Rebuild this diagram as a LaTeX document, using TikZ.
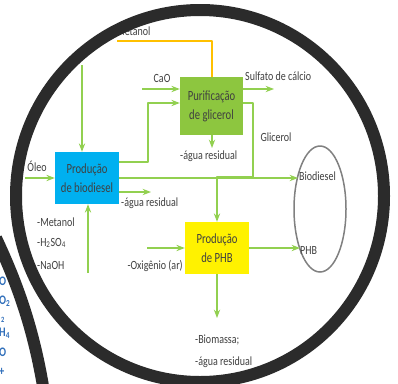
\documentclass[tikz,border=0pt]{standalone}
\usepackage{fontspec}
\setmainfont{Carlito}[FakeStretch=0.8]
\newfontfamily\boxfont{Carlito}[FakeStretch=0.76]
\usetikzlibrary{arrows.meta,positioning,shapes.geometric}
\definecolor{bioblue}{HTML}{00B0F0}
\definecolor{glicgreen}{HTML}{8DC63F}
\definecolor{flowgreen}{HTML}{92D050}
\definecolor{metgold}{HTML}{FFC000}
\definecolor{txtgray}{HTML}{404040}
\definecolor{ringgray}{HTML}{2B2B2B}
\definecolor{fragblue}{HTML}{2F6EBA}
\tikzset{
  every picture/.style={line join=round, >=Stealth},
  procbox/.style={minimum width=64pt, minimum height=52pt, align=center, inner sep=1pt,
    text=txtgray, font=\boxfont\fontsize{14}{19}\selectfont},
  flow/.style={->, draw=flowgreen, line width=1.2pt},
  lbl/.style={text=txtgray, inner sep=1pt, font=\fontsize{12.5}{14}\selectfont},
  ring/.style={draw=ringgray, line width=12pt},
  frag/.style={text=fragblue, inner sep=0pt, anchor=west, font=\bfseries\fontsize{13}{14}\selectfont},
}
\begin{document}
\begin{tikzpicture}[x=1pt,y=-1pt]
\useasboundingbox[fill=white] (0,0) rectangle (398,383);
% process boxes
\node[procbox, fill=bioblue] (bio) at (87,178) {Produção\\de biodiesel};
\node[procbox, fill=glicgreen, minimum height=58pt, minimum width=63pt] (pur) at (211.5,106) {Purificação\\de glicerol};
\node[procbox, fill=yellow] (phb) at (217,248) {Produção\\de PHB};
\node[draw=gray, line width=1.5pt, ellipse, minimum width=52pt, minimum height=126pt, inner sep=0pt] (prod) at (320,209) {};
% metanol
\coordinate (m0) at (117,41);
\coordinate (m1) at (212,41);
\node[lbl, anchor=west] (lmet) at (115,31) {Metanol};
\draw[draw=metgold, line width=1.2pt] (m0) -- (m1) -- (m1 |- pur.north);
% inputs of biodiesel
\coordinate (t0) at (82,65);
\draw[flow] (t0) -- (t0 |- bio.north);
\coordinate (o0) at (25,178);
\node[lbl] (loleo) at (37,166) {Óleo};
\draw[flow] (o0) -- (bio.west);
\coordinate (b0) at (88,273);
\draw[flow] (b0) -- (b0 |- bio.south);
\node[lbl, anchor=west] (lmeta) at (36,222) {-Metanol};
\node[lbl, anchor=west] (lacid) at (36,243) {-H\textsubscript{2}SO\textsubscript{4}};
\node[lbl, anchor=west] (lbase) at (36,265) {-NaOH};
% outputs of biodiesel
\coordinate (g0) at (119,162);
\coordinate (g1) at (148,162);
\draw[flow] (g0) -- (g1) |- (pur.west |- 0,103);
\coordinate (d1) at (298,178);
\draw[flow] (bio.east) -- (d1);
\node[lbl, anchor=west] (lbiod) at (298,176) {Biodiesel};
\coordinate (w0) at (119,192);
\coordinate (w1) at (151,192);
\draw[flow] (w0) -- (w1);
\node[lbl, anchor=west] (lwat1) at (120,203) {-água residual};
% purificacao
\coordinate (c0) at (142,89);
\draw[flow] (c0) -- (c0 -| pur.west);
\node[lbl] (lcao) at (162,78) {CaO};
\coordinate (s0) at (243,89);
\coordinate (s1) at (274,89);
\draw[flow] (s0) -- (s1);
\node[lbl, anchor=west] (lsulf) at (244,76) {Sulfato de cálcio};
\coordinate (r0) at (212,135);
\coordinate (r1) at (212,148);
\draw[flow] (r0) -- (r1);
\node[lbl, anchor=west] (lwat2) at (179,156) {-água residual};
\coordinate (k0) at (243,103);
\coordinate (k1) at (253,103);
\coordinate (k2) at (253,177);
\coordinate (k3) at (217,177);
\draw[flow] (k0) -- (k1) -- (k2) -- (k3) -- (phb.north);
\node[lbl] (lglic) at (276,137) {Glicerol};
% producao de PHB
\coordinate (x0) at (147,248);
\draw[flow] (x0) -- (phb.west);
\node[lbl, anchor=east] (loxi) at (184,266) {-Oxigênio (ar)};
\coordinate (p1) at (300,248);
\draw[flow] (phb.east) -- (p1);
\node[lbl, anchor=west] (lphb) at (299,250) {PHB};
\coordinate (q1) at (217,318);
\draw[flow] (phb.south) -- (q1);
\node[lbl, anchor=west] (lbiom) at (194,340) {-Biomassa;};
\node[lbl, anchor=west] (lwat3) at (194,362) {-água residual};
% fragments at the left edge
\node[frag] (f1) at (-1,281) {O};
\node[frag] (f2) at (-1,301) {O\textsubscript{2}};
\node[frag] (f3) at (1,320) {\fontsize{8}{9}\selectfont 2};
\node[frag] (f4) at (-1,333) {H\textsubscript{4}};
\node[frag] (f5) at (-1,352) {O};
\node[frag] (f6) at (-1,372) {+};
% rings
\draw[ring] (200,196) ellipse [x radius=184, y radius=186];
\draw[ring] (-4,238) .. controls (18,285) and (34,330) .. (44,392);
\end{tikzpicture}
\end{document}
